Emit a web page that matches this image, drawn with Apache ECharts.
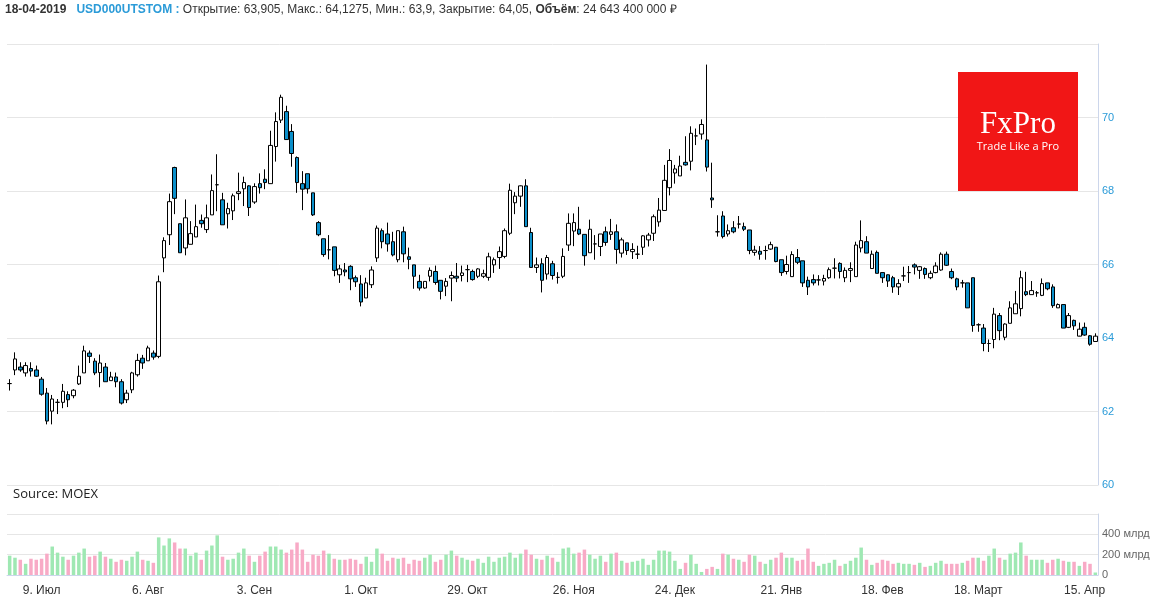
<!DOCTYPE html>
<html><head><meta charset="utf-8">
<script src="https://cdn.jsdelivr.net/npm/echarts@6/dist/echarts.min.js"></script>
<style>html,body{margin:0;padding:0;background:#fff}#c{width:1158px;height:603px}</style>
</head><body><div id="c"></div>
<script>
// [open, close, low, high]
const ohlc = [
[62.76,62.76,62.57,62.88],[63.13,63.43,62.99,63.61],[63.21,63.13,63.08,63.34],[63.05,63.25,62.95,63.34],[63.17,63.10,62.95,63.34],
[63.13,62.96,62.94,63.25],[62.88,62.47,62.43,62.94],[62.50,61.74,61.65,62.64],[62.01,62.34,61.65,62.45],[62.25,62.25,61.93,62.34],
[62.25,62.55,62.09,62.75],[62.46,62.32,62.12,62.55],[62.43,62.58,62.36,62.61],[62.75,62.96,62.72,63.25],[63.05,63.65,63.05,63.79],
[63.59,63.50,63.32,63.66],[63.37,63.05,62.99,63.45],[63.06,63.32,62.66,63.55],[63.21,62.81,62.81,63.32],[62.84,62.94,62.84,63.08],
[62.94,62.81,62.66,63.06],[62.81,62.23,62.19,62.88],[62.32,62.50,62.23,62.59],[62.59,63.05,62.50,63.08],[63.00,63.39,62.95,63.57],
[63.45,63.32,63.16,63.54],[63.38,63.73,63.38,63.79],[63.59,63.48,63.41,63.66],[63.50,65.53,63.45,65.70],[66.18,66.65,65.79,66.74],
[66.81,67.71,66.53,67.93],[68.64,67.80,67.37,68.66],[67.11,66.32,66.32,67.11],[66.45,67.27,66.25,67.77],[66.55,66.84,66.55,67.18],
[66.75,67.03,66.75,67.63],[67.20,67.11,67.00,67.36],[66.95,67.27,66.86,67.63],[67.35,68.01,67.35,68.45],[68.17,68.17,67.45,69.00],
[67.76,67.08,67.08,67.95],[67.38,67.52,66.98,67.68],[67.46,67.87,67.21,67.93],[67.93,67.98,67.75,68.50],[68.06,68.23,67.59,68.39],
[68.14,67.55,67.32,68.16],[67.70,68.12,67.65,68.21],[68.20,68.09,67.93,68.48],[68.32,68.23,68.05,68.59],[68.20,69.24,68.20,69.64],
[69.21,69.89,68.80,70.14],[69.93,70.55,69.85,70.62],[70.16,69.40,69.40,70.32],[69.62,69.02,68.66,69.82],[68.91,68.23,67.95,68.94],
[68.20,68.05,67.48,68.54],[68.47,68.06,67.93,68.47],[67.95,67.35,67.32,67.95],[67.14,66.81,66.77,67.18],[66.70,66.27,66.21,66.70],
[66.40,66.40,66.14,66.80],[66.48,65.84,65.68,66.48],[65.72,65.88,65.50,65.99],[65.85,65.80,65.68,66.04],[65.95,65.61,65.30,65.98],
[65.64,65.53,65.39,65.70],[65.47,64.98,64.86,65.71],[65.09,65.50,65.09,65.64],[65.45,65.85,65.36,65.95],[66.18,66.99,66.07,67.06],
[66.92,66.62,66.44,66.98],[66.83,66.56,66.35,67.14],[66.62,66.26,66.22,66.89],[66.13,66.92,66.06,66.92],[66.89,66.29,66.06,67.03],
[66.21,66.14,65.87,66.46],[65.99,65.68,65.34,65.99],[65.54,65.36,65.29,65.72],[65.36,65.54,65.34,65.54],[65.68,65.84,65.54,65.92],
[65.81,65.51,65.45,65.97],[65.57,65.27,65.05,65.57],[65.41,65.54,65.14,65.63],[65.63,65.70,65.00,65.81],[65.68,65.63,65.52,66.04],
[65.70,65.77,65.54,65.97],[65.86,65.86,65.52,65.99],[65.81,65.59,65.56,65.86],[65.68,65.88,65.63,65.90],[65.68,65.75,65.63,65.86],
[65.65,66.21,65.56,66.32],[65.99,66.13,65.77,66.19],[66.19,66.35,65.88,66.49],[66.22,66.92,66.17,66.98],[66.85,68.02,66.80,68.20],
[67.68,67.86,67.37,67.97],[67.86,68.14,67.57,68.15],[68.14,67.03,67.03,68.32],[66.87,65.92,65.92,67.00],[65.92,65.99,65.77,66.19],
[66.02,65.57,65.24,66.17],[65.74,66.19,65.59,66.26],[66.02,65.70,65.59,66.10],[65.65,65.65,65.48,65.79],[65.68,66.22,65.63,66.44],
[66.53,67.12,66.37,67.39],[66.91,67.14,66.50,67.39],[66.96,66.83,66.80,67.57],[66.82,66.24,65.97,66.82],[66.32,66.96,66.32,67.22],
[66.56,66.56,66.13,66.80],[66.49,66.83,66.23,66.83],[66.89,66.60,66.51,67.03],[66.82,66.89,66.67,67.24],[66.89,66.41,66.02,67.09],
[66.31,66.67,66.19,66.73],[66.59,66.38,66.26,66.59],[66.35,66.41,66.15,66.58],[66.28,66.28,66.15,66.51],[66.47,66.78,66.26,66.80],
[66.67,66.80,66.49,66.86],[66.85,67.30,66.64,67.36],[67.16,67.48,67.03,67.81],[67.47,68.29,67.47,68.71],[68.09,68.83,67.88,69.14],
[68.49,68.60,68.20,68.71],[68.41,68.68,68.41,68.96],[68.78,68.71,68.69,69.49],[68.81,69.57,68.56,69.76],[69.50,69.50,69.25,69.70],
[69.55,69.81,69.40,69.95],[69.39,68.65,68.53,71.44],[67.81,67.76,67.54,68.77],[66.89,66.89,66.76,67.34],[67.32,66.76,66.71,67.45],
[66.83,66.92,66.76,67.09],[67.00,66.89,66.85,67.18],[67.10,67.10,66.98,67.32],[67.03,66.96,66.91,67.14],[66.94,66.38,66.28,66.94],
[66.33,66.39,66.24,66.51],[66.36,66.28,66.13,66.50],[66.38,66.38,66.13,66.51],[66.42,66.54,66.40,66.62],[66.47,66.08,66.06,66.47],
[66.13,65.78,65.69,66.13],[65.81,66.00,65.73,66.24],[65.67,66.27,65.67,66.36],[66.19,66.06,66.01,66.42],[66.10,65.50,65.39,66.10],
[65.57,65.39,65.17,65.67],[65.59,65.50,65.43,65.73],[65.58,65.58,65.43,65.71],[65.55,65.62,65.43,65.72],[65.64,65.86,65.61,65.92],
[65.90,65.90,65.62,66.17],[66.03,65.81,65.62,66.06],[65.64,65.84,65.52,65.92],[65.84,65.89,65.52,66.06],[65.67,66.53,65.67,66.62],
[66.45,66.65,66.33,67.20],[66.62,66.31,66.31,66.77],[65.89,66.28,65.89,66.38],[66.33,65.76,65.76,66.38],[65.78,65.64,65.50,65.78],
[65.72,65.55,65.39,65.73],[65.64,65.39,65.23,65.69],[65.39,65.48,65.17,65.60],[65.69,65.69,65.55,65.94],[65.78,65.78,65.50,65.96],
[65.99,65.93,65.73,66.03],[65.84,65.94,65.61,65.96],[65.89,65.73,65.61,65.92],[65.64,65.76,65.60,65.83],[65.78,65.96,65.76,66.06],
[65.85,66.28,65.83,66.33],[66.28,65.98,65.96,66.35],[65.81,65.64,65.60,65.89],[65.61,65.39,65.30,65.64],[65.50,65.50,65.37,65.58],
[65.50,64.82,64.82,65.50],[65.64,64.34,64.17,65.64],[64.36,64.36,64.17,64.40],[64.27,63.85,63.64,64.38],[63.85,63.85,63.62,63.96],
[63.96,64.65,63.72,64.82],[64.61,64.20,63.94,64.68],[64.02,64.38,63.94,64.40],[64.40,64.82,64.40,65.00],[64.66,64.93,64.66,65.28],
[64.80,65.64,64.59,65.83],[65.26,65.18,65.14,65.80],[65.18,65.29,65.18,65.55],[65.23,65.23,65.12,65.28],[65.16,65.48,65.14,65.62],
[65.50,65.34,65.30,65.50],[65.39,64.88,64.82,65.46],[64.82,64.91,64.82,64.94],[64.91,64.27,64.27,64.91],[64.29,64.61,64.27,64.68],
[64.48,64.33,64.22,64.50],[64.05,64.24,64.06,64.42],[64.29,64.08,64.06,64.42],[64.06,63.83,63.79,64.08],[63.905,64.05,63.9,64.1275]
];
// volume, billions RUB
const volume = [
190,170,150,110,160,150,160,210,280,220,180,150,190,220,260,180,190,230,180,160,
130,150,140,180,230,150,140,120,370,290,360,320,260,260,190,220,150,240,290,390,
180,150,160,220,260,190,130,190,230,280,280,250,220,250,320,250,130,200,190,240,
210,160,150,150,160,150,110,180,130,260,210,140,170,160,170,110,150,140,170,200,
130,150,200,240,190,170,150,140,160,120,180,130,170,180,220,170,210,250,200,160,
150,190,170,130,260,270,210,220,250,200,160,190,130,210,220,140,120,130,140,160,
100,150,240,240,230,140,60,120,200,110,30,60,80,60,210,200,160,150,130,200,
190,130,110,150,170,220,170,170,140,150,260,130,90,110,120,150,90,110,140,170,
270,150,100,120,150,140,110,120,110,110,100,120,80,90,120,140,110,110,110,120,
140,170,170,140,190,260,170,150,210,220,320,190,150,150,150,120,150,160,140,130,
130,90,130,110,24.6
];
const tickIndex = [6,26,46,66,86,106,125,145,164,182,202];
const tickLabels = ['9. Июл','6. Авг','3. Сен','1. Окт','29. Окт','26. Ноя','24. Дек','21. Янв','18. Фев','18. Март','15. Апр'];

const cats = ohlc.map((d,i)=>String(i));
const tickMap = {}; tickIndex.forEach((k,j)=>tickMap[k]=tickLabels[j]);
const volData = volume.map((v,i)=>({value:v,itemStyle:{color: ohlc[i][1]>=ohlc[i][0] ? '#9fe8b3' : '#f8aac6'}}));

const chart = echarts.init(document.getElementById('c'));
const axisBlue = '#ccd6eb';
chart.setOption({
  animation:false,
  grid:[{left:7,width:1091,top:44,height:441},{left:7,width:1091,top:514,height:61}],
  xAxis:[
    {type:'category',data:cats,gridIndex:0,boundaryGap:true,axisLine:{show:false},axisTick:{show:false},axisLabel:{show:false},splitLine:{show:false}},
    {type:'category',data:cats,gridIndex:1,boundaryGap:true,axisLine:{lineStyle:{color:axisBlue}},
     axisTick:{alignWithLabel:true,interval:(i)=>tickMap[i]!==undefined,lineStyle:{color:axisBlue},length:5},
     axisLabel:{interval:(i)=>tickMap[i]!==undefined,formatter:(v)=>tickMap[+v]||'',color:'#333',fontSize:12,fontFamily:'Liberation Sans, Arial',margin:10}}
  ],
  yAxis:[
    {type:'value',gridIndex:0,position:'right',min:60,max:72,interval:2,
     axisLine:{show:true,lineStyle:{color:axisBlue}},axisTick:{show:false},
     axisLabel:{color:'#2b9bd8',fontSize:11,fontFamily:'Liberation Sans, Arial',margin:4,showMaxLabel:false},
     splitLine:{lineStyle:{color:'#e6e6e6'}}},
    {type:'value',gridIndex:1,position:'right',min:0,max:600,interval:200,
     axisLine:{show:true,lineStyle:{color:axisBlue}},axisTick:{show:false},
     axisLabel:{color:'#666',fontSize:11,fontFamily:'Liberation Sans, Arial',margin:4,showMaxLabel:false,
       formatter:(v)=>v===0?'0':v+' млрд'},
     splitLine:{lineStyle:{color:'#e6e6e6'}}}
  ],
  series:[
    {type:'candlestick',xAxisIndex:0,yAxisIndex:0,data:ohlc,barWidth:4,
     itemStyle:{color:'#ffffff',color0:'#0b8fca',borderColor:'#000',borderColor0:'#000',borderWidth:1}},
    {type:'bar',xAxisIndex:1,yAxisIndex:1,data:volData,barWidth:3.5}
  ],
  graphic:[
    {type:'text',left:5,top:4,style:{
      text:'{d|18-04-2019}   {t|USD000UTSTOM :} {n|Открытие: 63,905, Макс.: 64,1275, Мин.: 63,9, Закрытие: 64,05, }{b|Объём}{n|: 24 643 400 000 ₽}',
      rich:{
        d:{fontWeight:'bold',fontSize:12,fill:'#333',fontFamily:'Liberation Sans, Arial'},
        t:{fontWeight:'bold',fontSize:12,fill:'#2b9bd8',fontFamily:'Liberation Sans, Arial'},
        n:{fontSize:12,fill:'#333',fontFamily:'Liberation Sans, Arial'},
        b:{fontWeight:'bold',fontSize:12,fill:'#333',fontFamily:'Liberation Sans, Arial'}
      }}},
    {type:'text',left:13,top:488,style:{text:'Source: MOEX',fontSize:13,fill:'#222',fontFamily:'Open Sans, Liberation Sans'}},
    {type:'group',z:100,children:[
      {type:'rect',z:100,shape:{x:958,y:72,width:120,height:119},style:{fill:'#f11616'}},
      {type:'text',z:101,style:{x:1018,y:125,text:'FxPro',fontSize:31,fill:'#fff',fontFamily:'Liberation Serif, DejaVu Serif',align:'center',verticalAlign:'middle'}},
      {type:'text',z:101,style:{x:1018,y:147,text:'Trade Like a Pro',fontSize:11,fill:'#fff',fontFamily:'Open Sans, Liberation Sans',align:'center',verticalAlign:'middle'}}
    ]}
  ]
});
</script></body></html>
